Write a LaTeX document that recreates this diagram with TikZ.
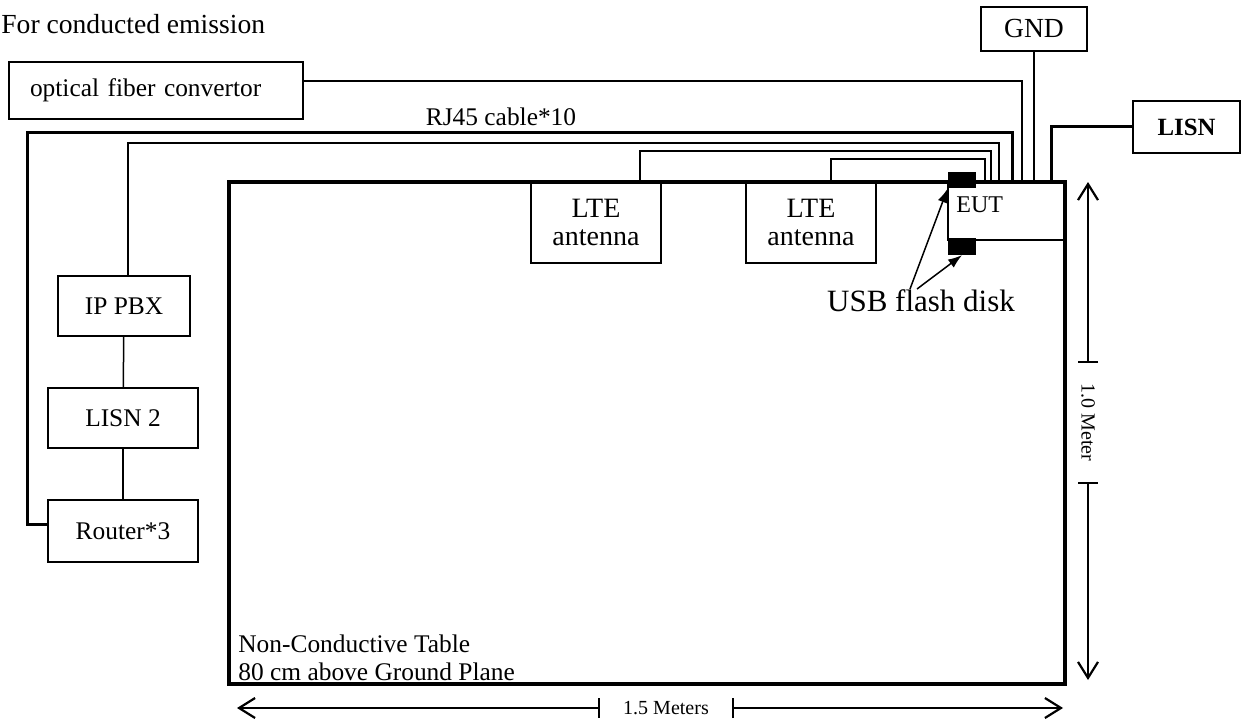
\documentclass[tikz,border=0pt]{standalone}
\usepackage{fontspec}
\setmainfont{Liberation Serif}
\usetikzlibrary{arrows.meta, positioning, calc}

\begin{document}
\begin{tikzpicture}[
  x=0.5pt, y=-0.5pt,
  every node/.style={font=\fontsize{12.7}{14}\selectfont},
  box/.style={rectangle, draw, line width=0.8pt, inner sep=0pt, align=center},
  cable/.style={line width=0.75pt},
  bigcable/.style={line width=1.5pt},
  usbdisk/.style={rectangle, fill=black, inner sep=0pt, minimum width=14pt, minimum height=8.25pt},
  arr/.style={-{Latex[length=7pt,width=5pt]}, line width=0.75pt},
  dimarr/.style={{Bar[width=10pt]}-{Straight Barb[length=8pt,width=10pt,line width=1.1pt]}, line width=0.75pt},
]
\useasboundingbox (0,0) rectangle (1242,722);

% Title
\node[anchor=base west, inner sep=0pt, font=\fontsize{13.8}{16}\selectfont] (title) at (1,34) {For conducted emission};

% Table
\node[box, line width=1.6pt, minimum width=418pt, minimum height=251pt] (table) at (647,433) {};
\node[anchor=south west, align=left, inner sep=0pt] (tabletxt) at (238,681) {Non-Conductive Table\\80 cm above Ground Plane};

% EUT and USB disks
\node[box, minimum width=58.5pt, minimum height=29pt] (eut) at (1006.5,211) {};
\node[anchor=base west, inner sep=0pt, font=\fontsize{12}{14}\selectfont] (euttxt) at (956,212) {EUT};
\node[usbdisk] (usb1) at (962,180) {};
\node[usbdisk] (usb2) at (962,246.5) {};
\node[font=\fontsize{15.5}{17}\selectfont] (usblbl) at (921,301) {USB flash disk};
\coordinate (ua) at (910,289);
\coordinate (ub) at (917,289);
\draw[arr] (ua) -- (usb1.south west);
\draw[arr] (ub) -- (usb2.south);

% LTE antennas
\node[box, minimum width=65pt, minimum height=40.5pt, font=\fontsize{14}{14}\selectfont] (lte1) at (596,222.5) {LTE\\antenna};
\node[box, minimum width=65pt, minimum height=40.5pt, font=\fontsize{14}{14}\selectfont] (lte2) at (811,222.5) {LTE\\antenna};

% Right side
\node[box, minimum width=53pt, minimum height=22pt, font=\fontsize{13.8}{16}\selectfont] (gnd) at (1034,29) {GND};
\node[box, minimum width=53.5pt, minimum height=26pt, font=\bfseries\fontsize{12.4}{14}\selectfont] (lisn) at (1186.5,127) {LISN};

% Left side
\node[box, minimum width=147pt, minimum height=28.5pt, text width=126pt, align=left] (ofc) at (156,90.5) {optical fiber convertor};
\node[box, minimum width=66pt, minimum height=30pt] (pbx) at (124,306) {IP PBX};
\node[box, minimum width=75pt, minimum height=30pt] (lisn2) at (123,418) {LISN 2};
\node[box, minimum width=75pt, minimum height=31pt] (router) at (123,531) {Router*3};
\node (rjlbl) at (501,117) {RJ45 cable*10};

% Cable entry points on EUT
\coordinate (e1) at (985,182);
\coordinate (e2) at (991,182);
\coordinate (e3) at (999,182);
\coordinate (e4) at (1012,182);
\coordinate (e5) at (1022,182);
\coordinate (e6) at (1034,182);
\coordinate (e7) at (1051,182);

% Cables
\draw[cable] ($(lte2.north)+(20,0)$) -- ++(0,-22) -| (e1);
\draw[cable] ($(lte1.north)+(44,0)$) -- ++(0,-30) -| (e2);
\draw[cable] ($(pbx.north)+(4,0)$) -- ++(0,-132) -| (e3);
\draw[bigcable] ($(router.west)+(0,-7)$) -- ++(-20,0) -- ++(0,-391) -| (e4);
\draw[cable] ($(ofc.east)+(0,-9.5)$) -| (e5);
\draw[cable] (gnd.south) -- (e6);
\draw[bigcable] (lisn.west) -| (e7);
\draw[cable] (pbx) -- (lisn2);
\draw[cable] (lisn2) -- (router);

% Dimensions
\node[font=\fontsize{10}{12}\selectfont, minimum width=66pt, inner sep=0pt] (dimh) at (666,708) {1.5 Meters};
\node[rotate=-90, font=\fontsize{10}{12}\selectfont, minimum width=59.5pt, inner sep=0pt] (dimv) at (1088,422.5) {1.0 Meter};
\coordinate (hl) at (237,708);
\coordinate (hr) at (1063,708);
\coordinate (vt) at (1088,182);
\coordinate (vb) at (1088,680);
\draw[dimarr] (dimh.west) -- (hl);
\draw[dimarr] (dimh.east) -- (hr);
\draw[dimarr] (dimv.west) -- (vt);
\draw[dimarr] (dimv.east) -- (vb);

\end{tikzpicture}
\end{document}
